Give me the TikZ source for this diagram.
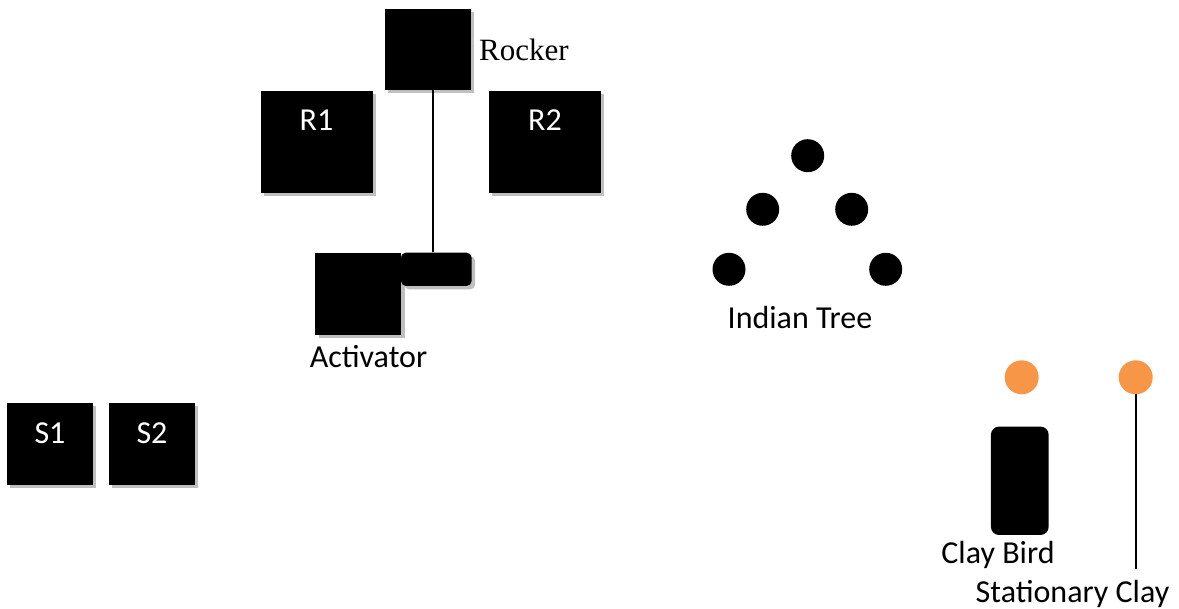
\documentclass[tikz,border=0pt]{standalone}
\usepackage{fontspec}
\setmainfont{Carlito}
\newfontfamily\serifrm{Liberation Serif}
\usetikzlibrary{shadows}
\definecolor{clayorange}{HTML}{F79646}
\tikzset{
  blk/.style={fill=black, draw=none, inner sep=0pt,
    drop shadow={shadow xshift=3.5pt, shadow yshift=-3.5pt, fill=black!25, opacity=1}},
  plainblk/.style={fill=black, draw=none, inner sep=0pt},
  dot/.style={circle, fill=black, draw=none, inner sep=0pt, minimum size=33pt},
  odot/.style={circle, fill=clayorange, draw=none, inner sep=0pt, minimum size=34pt},
  lbl/.style={font=\fontsize{32}{38}\selectfont, inner sep=0pt, anchor=base},
  wlbl/.style={lbl, text=white},
  wire/.style={line width=2pt, black}
}
\begin{document}
\begin{tikzpicture}[x=1pt,y=-1pt]
\useasboundingbox (0,0) rectangle (1179,609);
% Rocker
\node[blk, minimum width=85.7pt, minimum height=81pt] (rocker) at (427.8,49.5) {};
\node[lbl, anchor=base west, font=\serifrm\fontsize{31}{37}\selectfont] (rockerlbl) at (479,60.7) {Rocker};
% R1, R2
\node[blk, minimum width=111.7pt, minimum height=101.7pt] (r1) at (316.8,141.8) {};
\node[wlbl] (r1lbl) at (316.5,131) {R1};
\node[blk, minimum width=111.7pt, minimum height=102pt] (r2) at (544.8,142) {};
\node[wlbl] (r2lbl) at (545,131) {R2};
% Activator
\node[blk, minimum width=86pt, minimum height=82.3pt] (act) at (358,293.8) {};
\node[blk, rounded corners=5pt, minimum width=70.7pt, minimum height=33.3pt] (switch) at (436.3,269.3) {};
\node[lbl] (actlbl) at (368.5,368) {Activator};
\coordinate (rx) at (432.7,0);
\draw[wire] (rocker.south -| rx) -- (switch.north -| rx);
% S1, S2
\node[blk, minimum width=85.7pt, minimum height=82pt] (s1) at (49.8,444) {};
\node[wlbl] (s1lbl) at (50,443.5) {S1};
\node[blk, minimum width=85.7pt, minimum height=82pt] (s2) at (151.8,444) {};
\node[wlbl] (s2lbl) at (152,443.5) {S2};
% Indian tree
\node[dot] (t1) at (807.7,155.7) {};
\node[dot] (t2) at (762.7,209.3) {};
\node[dot] (t3) at (851.7,209.3) {};
\node[dot] (t4) at (729,269.3) {};
\node[dot] (t5) at (885.7,269.3) {};
\node[lbl] (treelbl) at (800,329) {Indian Tree};
% Clay
\node[odot] (o1) at (1021.7,377.3) {};
\node[odot] (o2) at (1135.7,377.3) {};
\node[plainblk, rounded corners=8pt, minimum width=57.7pt, minimum height=108.3pt] (bird) at (1019.8,480.8) {};
\node[lbl] (birdlbl) at (998,563.5) {Clay Bird};
\coordinate (stend) at (1135.7,569);
\draw[wire] (o2.south) -- (stend);
\node[lbl] (statlbl) at (1072.5,602.5) {Stationary Clay};
\end{tikzpicture}
\end{document}
